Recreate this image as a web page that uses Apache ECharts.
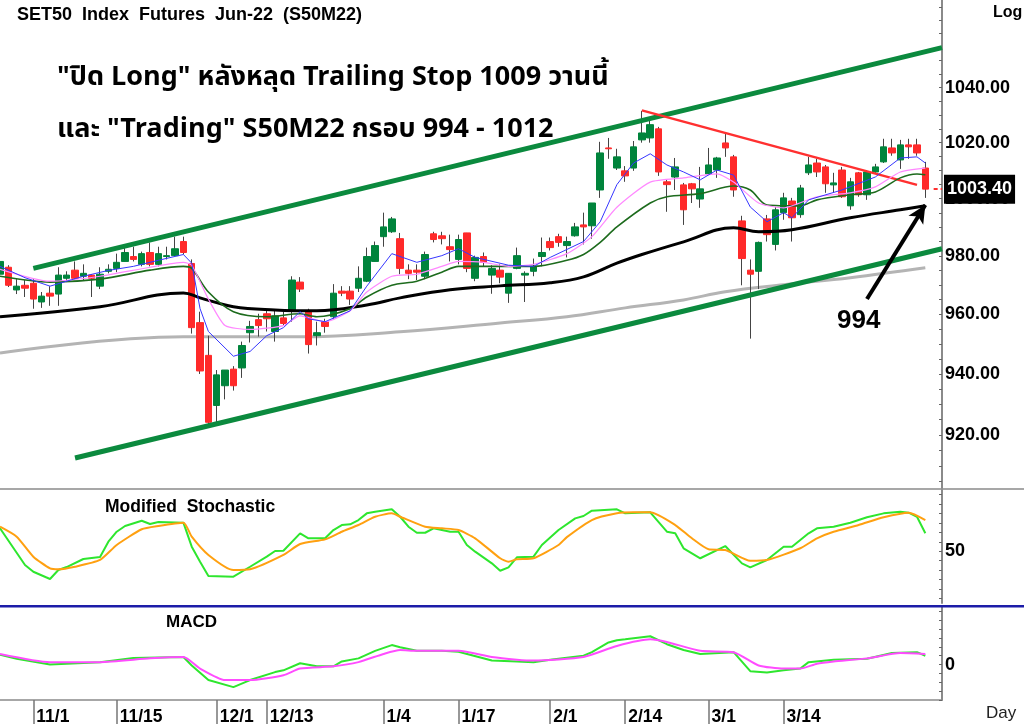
<!DOCTYPE html>
<html><head><meta charset="utf-8">
<script src="https://cdn.jsdelivr.net/npm/echarts@6/dist/echarts.min.js"></script>
<style>html,body{margin:0;padding:0;background:#fff}#c{width:1024px;height:726px}</style>
</head><body><div id="c"></div>
<script>
// ---- categories (trading days) ----
const dates = ['10/26','10/27','10/28','10/29',
 '11/1','11/2','11/3','11/4','11/5','11/8','11/9','11/10','11/11','11/12',
 '11/15','11/16','11/17','11/18','11/19','11/22','11/23','11/24','11/25','11/26','11/29','11/30',
 '12/1','12/2','12/3','12/7','12/8','12/9','12/13','12/14','12/15','12/16','12/17',
 '12/20','12/21','12/22','12/23','12/24','12/27','12/28','12/29','12/30',
 '1/4','1/5','1/6','1/7','1/10','1/11','1/12','1/13','1/14','1/17','1/18','1/19','1/20','1/21',
 '1/24','1/25','1/26','1/27','1/28','1/31',
 '2/1','2/2','2/3','2/4','2/7','2/8','2/9','2/10','2/11','2/14','2/15','2/17','2/18',
 '2/21','2/22','2/23','2/24','2/25','2/28',
 '3/1','3/2','3/3','3/4','3/7','3/8','3/9','3/10','3/11','3/14','3/15','3/16','3/17','3/18',
 '3/21','3/22','3/23','3/24','3/25','3/28','3/29','3/30','3/31',
 '4/1','4/4','4/5','4/7','4/8','4/11'];
const dateLabels = ['11/1','11/15','12/1','12/13','1/4','1/17','2/1','2/14','3/1','3/14'];

// ---- candles ----
const opens  = [973.7,976.1,968.3,969.9,970.6,964.2,967.2,966.9,972.3,975.1,973.0,973.4,969.6,974.7,975.7,978.1,979.8,977.1,981.2,977.1,979.8,980.1,985.0,977.4,957.2,946.2,929.6,936.1,941.6,942.0,953.8,958.2,960.2,954.2,958.8,961.2,971.0,961.2,952.8,957.5,959.2,967.9,967.9,968.9,971.3,978.1,986.7,988.4,986.0,975.1,975.1,973.0,987.7,987.0,983.2,978.8,988.0,972.3,979.8,973.4,975.1,967.2,975.7,973.4,974.7,979.8,985.0,986.7,983.6,987.0,990.8,990.5,1003.1,1018.1,1010.9,1009.9,1010.9,1021.0,1021.7,1025.0,1006.0,1007.7,1004.9,1005.3,999.9,1008.8,1010.2,1019.9,1014.9,992.2,975.1,974.7,992.9,984.0,995.1,999.2,994.4,1009.2,1012.7,1011.3,1004.9,1010.2,997.5,1009.2,1001.4,1009.5,1013.1,1018.1,1013.8,1019.2,1019.2,1010.9];
const closes = [978.1,969.9,969.6,968.9,965.2,966.2,966.2,973.4,973.4,972.3,974.0,972.3,973.7,975.4,977.8,981.2,978.8,980.8,977.1,980.8,980.1,982.5,981.2,955.5,941.0,924.1,939.7,941.3,936.1,949.5,955.9,956.2,958.5,959.5,956.9,971.7,968.6,949.8,953.8,955.9,967.2,967.2,965.2,972.3,979.8,983.6,990.1,992.9,975.7,974.0,974.4,980.5,985.7,986.0,982.2,985.7,975.7,979.5,977.8,975.7,972.7,974.0,980.1,974.0,976.4,981.2,982.9,984.7,985.0,990.1,990.1,998.5,1016.3,1017.8,1014.9,1008.1,1018.5,1023.5,1026.5,1009.5,1005.0,1011.3,996.1,1003.5,1003.5,1012.0,1014.5,1018.1,1003.1,979.1,973.7,984.7,987.4,996.1,1000.3,993.3,1003.8,1012.0,1009.5,1005.3,1005.6,1000.7,1006.0,1001.4,1009.5,1011.3,1018.5,1016.3,1019.2,1018.5,1016.3,1003.4];
const lows   = [972.7,969.3,966.9,965.9,961.9,962.2,962.9,962.9,971.0,972.0,971.7,965.9,968.6,974.0,974.4,978.1,978.1,976.4,976.4,976.4,978.8,979.8,980.5,953.5,940.0,923.5,924.1,931.6,934.5,938.7,950.5,952.5,954.2,950.8,956.2,957.5,967.6,946.8,949.5,953.8,958.5,966.2,963.2,967.6,971.0,978.1,983.2,988.0,973.7,972.0,971.7,972.0,984.7,984.0,978.1,977.1,974.4,971.3,976.4,967.0,970.6,963.9,975.4,964.2,973.0,976.4,981.9,983.2,979.5,986.7,984.0,986.0,1000.3,1014.2,1010.2,1006.0,1009.9,1020.0,1020.0,1008.1,995.4,1003.1,990.8,998.5,996.8,1008.4,1007.4,1014.9,1000.7,969.9,951.8,968.6,985.0,981.9,992.6,985.0,993.3,1008.4,1007.7,1002.1,1002.1,1000.3,996.1,1000.7,999.6,1009.2,1012.7,1015.3,1010.6,1014.2,1015.3,1000.3];
const highs  = [979.5,976.8,972.0,971.7,972.0,967.6,969.6,976.1,974.7,978.1,977.1,973.7,976.1,977.1,980.8,983.2,983.2,981.5,984.7,983.2,983.2,986.7,986.7,978.8,960.9,952.8,941.3,941.3,942.6,950.8,957.8,960.2,961.2,961.2,960.9,973.0,972.7,961.9,957.5,958.5,970.3,969.6,969.6,976.4,982.9,985.0,995.1,993.6,988.0,977.1,977.1,981.5,988.4,988.4,987.4,987.4,988.0,980.1,981.2,976.8,977.1,974.0,982.9,974.7,979.1,986.4,986.4,987.7,986.7,991.5,995.1,998.5,1020.3,1021.7,1017.8,1011.6,1020.6,1031.5,1027.9,1025.7,1006.7,1014.5,1005.6,1005.6,1011.3,1018.1,1014.9,1023.5,1015.6,994.0,978.8,985.0,994.3,997.1,1002.1,1000.3,1004.9,1014.9,1014.2,1012.0,1009.2,1011.3,1007.4,1009.5,1010.2,1012.4,1021.4,1021.4,1021.0,1021.4,1021.4,1013.1];
const lastPrice = 1003.40;

// ---- moving averages [dayIndex, value] ----
const maBlue = [[0,976.4],[3,972.5],[6,969.6],[10,973.0],[13,975.0],[16,976.4],[19,978.5],[22,980.5],[23,977.5],[24,961.9],[25,954.2],[28,945.9],[30,947.5],[32,952.8],[34,955.5],[36,960.9],[37,958.5],[39,957.5],[42,961.2],[44,969.6],[47,980.8],[50,977.8],[53,980.1],[55,982.5],[57,979.5],[61,976.8],[64,976.4],[66,979.5],[70,985.0],[72,991.9],[74,1005.0],[76,1012.7],[78,1016.0],[80,1012.0],[82,1009.5],[84,1006.7],[86,1010.2],[88,1008.4],[90,997.1],[92,991.9],[94,995.1],[95,993.3],[97,999.6],[101,1003.1],[105,1007.7],[108,1014.5],[110,1014.9],[111,1012.7]];
const maPink = [[0,975.4],[6,971.3],[12,973.0],[18,976.1],[22,977.8],[23,976.8],[25,965.2],[27,956.2],[30,954.9],[34,956.2],[36,959.5],[39,957.5],[42,961.2],[44,967.6],[47,973.0],[50,973.7],[53,976.4],[55,978.1],[58,977.8],[61,976.4],[64,977.1],[68,980.8],[71,986.7],[74,997.0],[78,1005.9],[82,1007.4],[86,1008.8],[88,1005.9],[91,998.5],[94,996.8],[98,1000.7],[102,1002.1],[105,1004.2],[108,1009.5],[111,1010.9]];
const maDkGreen = [[0,973.0],[6,971.0],[12,972.0],[18,975.1],[22,976.4],[23,975.7],[25,967.6],[28,960.9],[32,959.2],[36,960.2],[38,959.2],[42,961.9],[44,965.9],[47,969.9],[50,971.3],[53,974.4],[55,976.4],[60,976.4],[64,976.4],[68,978.5],[70,980.5],[72,984.7],[74,990.1],[78,998.5],[80,1000.7],[84,1001.8],[88,1004.5],[90,1003.1],[92,997.8],[96,997.5],[98,999.6],[102,1001.4],[105,1002.4],[108,1007.4],[110,1008.8],[111,1008.5]];
const maBlack = [[0,959.2],[12,962.6],[22,967.3],[24,965.6],[28,962.6],[33,961.5],[38,961.2],[44,963.2],[48,965.6],[54,968.4],[60,969.7],[66,970.8],[70,972.8],[74,977.5],[77,980.5],[82,984.9],[88,989.8],[91,988.4],[95,989.1],[102,993.3],[108,996.1],[111,997.5]];
const maGray = [[0,947.0],[22,952.4],[36,952.4],[48,954.1],[60,957.1],[68,959.2],[75,962.2],[82,964.9],[87,967.7],[94,970.1],[102,972.5],[111,975.9]];

// ---- drawn trend lines [dayIndex, price] ----
const channelUpper = [[4,975.7],[113,1054.8]];
const channelLower = [[9,912.5],[113,982.5]];
const redTrend = [[77,1031.7],[110,1004.9]];
const arrow994 = [[104,965.2],[111,997.8]];

// ---- stochastic ----
const stochK = [[0,74.3],[3,35.3],[4,28.2],[6,20.5],[7,30.0],[8,33.2],[10,41.7],[12,43.8],[13,60.1],[14,70.7],[15,76.8],[17,82.4],[18,78.9],[19,81.0],[22,80.3],[23,54.8],[24,38.8],[25,23.7],[28,22.9],[30,33.5],[32,44.2],[33,50.2],[34,50.5],[36,69.0],[37,63.7],[39,63.7],[40,72.5],[41,77.8],[42,78.6],[43,83.1],[44,90.2],[45,91.9],[47,94.5],[48,86.6],[49,76.0],[50,69.6],[51,69.6],[52,74.3],[54,70.7],[55,70.7],[56,56.6],[57,49.5],[59,37.1],[60,29.3],[61,32.9],[62,43.5],[64,44.2],[65,56.6],[67,72.5],[69,84.9],[70,87.4],[71,93.0],[74,94.5],[75,90.2],[78,91.3],[80,70.7],[81,69.0],[82,53.1],[84,42.5],[87,55.5],[89,37.1],[90,32.9],[92,40.7],[94,54.8],[95,54.8],[97,69.0],[98,74.3],[100,76.0],[102,80.3],[104,86.0],[106,90.2],[108,91.9],[109,90.9],[110,86.6],[111,69.0]];
const stochD = [[0,76.0],[2,65.4],[4,44.2],[6,31.8],[7,30.8],[9,33.5],[12,40.7],[14,56.6],[17,73.3],[19,76.8],[22,80.3],[23,65.4],[25,46.0],[28,30.0],[30,30.8],[34,46.0],[36,57.6],[39,62.6],[41,70.7],[43,77.8],[45,86.6],[47,90.2],[48,86.6],[51,76.0],[53,74.3],[55,72.5],[57,63.7],[60,42.5],[61,38.8],[62,41.4],[64,42.5],[67,56.6],[68,65.0],[71,83.1],[74,90.2],[76,91.3],[78,91.3],[81,77.8],[83,63.7],[85,52.0],[87,51.3],[90,39.9],[92,40.7],[96,53.1],[98,63.7],[100,70.7],[103,77.8],[106,86.0],[109,90.9],[111,83.1]];

// ---- MACD ----
const macdLine = [[0,2.2],[2,1.3],[6,0.0],[8,0.2],[12,0.5],[16,1.5],[22,1.7],[23,-0.2],[25,-3.5],[28,-5.1],[30,-3.5],[33,-1.7],[34,-1.3],[36,0.3],[38,-0.4],[40,-0.4],[41,0.7],[43,1.4],[45,3.1],[47,4.4],[48,3.9],[50,3.1],[53,3.1],[55,2.9],[59,0.9],[62,0.7],[64,0.55],[66,1.1],[70,2.0],[71,2.8],[73,5.0],[74,5.5],[75,5.7],[78,6.4],[80,4.6],[82,3.3],[84,2.4],[88,2.8],[90,-1.5],[92,-1.8],[94,-1.3],[96,-0.9],[97,0.55],[100,1.1],[104,1.3],[107,2.6],[110,2.8],[111,2.0]];
const macdSignal = [[0,2.4],[6,0.55],[12,0.55],[18,1.4],[22,1.7],[24,-0.9],[27,-3.5],[30,-3.5],[34,-2.4],[36,-0.9],[40,-0.4],[43,0.55],[46,2.4],[48,3.3],[50,3.1],[55,3.1],[59,1.7],[62,1.1],[64,0.9],[70,1.7],[74,4.2],[78,5.7],[80,5.1],[84,3.1],[88,2.8],[91,-0.2],[94,-0.9],[96,-0.9],[98,0.2],[100,0.7],[104,1.4],[108,2.6],[111,2.4]];

// ---- axis ticks ----
const priceLabels = [920,940,960,980,1000,1020,1040];
const priceTicks = []; for (let p = 905; p <= 1070; p += 5) priceTicks.push(p);
const stochLabels = [50];
const stochTicks = [0,10,20,30,40,50,60,70,80,90,100,110];
const macdLabels = [0];
const macdTicks = [-8,-6,-4,-2,0,2,4,6,8,10,12];

const L = Math.log;
const FONT = '"Liberation Sans", Arial, sans-serif';
const THAI = 'Tahoma, "Noto Sans Thai", "Liberation Sans", sans-serif';
const pairsL = a => a.map(p => [p[0], L(p[1])]);

const wickData = opens.map((o,i) => [L(o), L(closes[i]), L(lows[i]), L(highs[i])]);
const bodyData = opens.map((o,i) => [L(o), L(closes[i]), L(Math.min(o,closes[i])), L(Math.max(o,closes[i]))]);
const isLabel = (i, v) => dateLabels.indexOf(v) >= 0;

const chart = echarts.init(document.getElementById('c'));
const axisGray = '#8a8a8a';

chart.setOption({
  animation: false,
  backgroundColor: '#fff',
  grid: [
    {left: 0, right: 82, top: 0, height: 488},
    {left: 0, right: 82, top: 490, height: 113},
    {left: 0, right: 82, top: 607, height: 95}
  ],
  xAxis: [
    {type:'category', gridIndex:0, data:dates, boundaryGap:false, axisLine:{show:false}, axisTick:{show:false}, axisLabel:{show:false}},
    {type:'category', gridIndex:1, data:dates, boundaryGap:false, axisLine:{show:false}, axisTick:{show:false}, axisLabel:{show:false}},
    {type:'category', gridIndex:2, data:dates, boundaryGap:false, position:'bottom',
      axisLine:{show:true, onZero:false, lineStyle:{color:axisGray, width:1.5}},
      axisTick:{show:true, interval:isLabel, length:24, lineStyle:{color:'#777', width:1.5}},
      axisLabel:{show:true, interval:isLabel, align:'left', margin:8, padding:[0,0,0,3], color:'#000', fontWeight:'bold', fontSize:17.5, fontFamily:FONT}}
  ],
  yAxis: [
    {type:'value', gridIndex:0, position:'right', min:L(902.9), max:L(1072.7), scale:true,
      splitLine:{show:false},
      axisLine:{show:true, lineStyle:{color:axisGray, width:2}},
      axisTick:{show:true, inside:true, length:3, customValues:priceTicks.map(L), lineStyle:{color:'#666'}},
      axisLabel:{customValues:priceLabels.map(L), formatter:v => Math.round(Math.exp(v)).toFixed(2), margin:3, color:'#000', fontWeight:'bold', fontSize:18, fontFamily:FONT}},
    {type:'value', gridIndex:1, position:'right', min:-5, max:115,
      splitLine:{show:false},
      axisLine:{show:true, lineStyle:{color:axisGray, width:2}},
      axisTick:{show:true, inside:true, length:3, customValues:stochTicks, lineStyle:{color:'#666'}},
      axisLabel:{customValues:stochLabels, margin:3, color:'#000', fontWeight:'bold', fontSize:18, fontFamily:FONT}},
    {type:'value', gridIndex:2, position:'right', min:-8, max:13,
      splitLine:{show:false},
      axisLine:{show:true, lineStyle:{color:axisGray, width:2}},
      axisTick:{show:true, inside:true, length:3, customValues:macdTicks, lineStyle:{color:'#666'}},
      axisLabel:{customValues:macdLabels, margin:3, color:'#000', fontWeight:'bold', fontSize:18, fontFamily:FONT}}
  ],
  series: [
    {type:'line', name:'trend', xAxisIndex:0, yAxisIndex:0, data:[], z:1, silent:true,
      markLine:{silent:true, symbol:['none','none'], label:{show:false},
        data:[
          [{coord:[channelUpper[0][0], L(channelUpper[0][1])], lineStyle:{color:'#0b8a3e', width:5, type:'solid'}}, {coord:[channelUpper[1][0], L(channelUpper[1][1])]}],
          [{coord:[channelLower[0][0], L(channelLower[0][1])], lineStyle:{color:'#0b8a3e', width:5, type:'solid'}}, {coord:[channelLower[1][0], L(channelLower[1][1])]}],
          [{coord:[redTrend[0][0], L(redTrend[0][1])], lineStyle:{color:'#ff3030', width:2.5, type:'solid'}}, {coord:[redTrend[1][0], L(redTrend[1][1])]}]
        ]}},
    {type:'line', name:'MA200', data:pairsL(maGray), showSymbol:false, smooth:0.4, z:2, lineStyle:{color:'#b4b4b4', width:3}},
    {type:'candlestick', name:'wick', data:wickData, barWidth:1, z:3,
      itemStyle:{color:'#444', color0:'#444', borderColor:'#444', borderColor0:'#444', borderWidth:1}},
    {type:'candlestick', name:'body', data:bodyData, barWidth:7, z:4,
      itemStyle:{color:'#00843c', color0:'#ff2a2a', borderColor:'#00843c', borderColor0:'#ff2a2a', borderWidth:1},
      markLine:{silent:true, symbol:['none','none'],
        data:[[{coord:[112, L(lastPrice)], lineStyle:{color:'#ff3030', width:2, type:[4,3]},
                label:{show:true, position:'end', distance:2, formatter:lastPrice.toFixed(2), backgroundColor:'#000', color:'#fff', fontWeight:'bold', fontSize:18, fontFamily:FONT, padding:[6,3,5,3]}},
               {coord:[113, L(lastPrice)]}]]}},
    {type:'line', name:'MA50', data:pairsL(maBlack), showSymbol:false, smooth:0.4, z:5, lineStyle:{color:'#000', width:3}},
    {type:'line', name:'MA15', data:pairsL(maDkGreen), showSymbol:false, smooth:0.3, z:5, lineStyle:{color:'#1d6b1d', width:1.6}},
    {type:'line', name:'MA10', data:pairsL(maPink), showSymbol:false, smooth:0.2, z:5, lineStyle:{color:'#ff88ff', width:1.2}},
    {type:'line', name:'MA5', data:pairsL(maBlue), showSymbol:false, z:5, lineStyle:{color:'#3636ff', width:1}},
    {type:'line', name:'arrow', data:[], z:6, silent:true,
      markLine:{silent:true, symbol:['none','arrow'], symbolSize:[13,18], label:{show:false},
        lineStyle:{color:'#000', width:4, type:'solid'},
        data:[[{coord:[arrow994[0][0], L(arrow994[0][1])]}, {coord:[arrow994[1][0], L(arrow994[1][1])]}]]}},
    {type:'line', name:'%K', xAxisIndex:1, yAxisIndex:1, data:stochK, showSymbol:false, lineStyle:{color:'#2ee62e', width:2}},
    {type:'line', name:'%D', xAxisIndex:1, yAxisIndex:1, data:stochD, showSymbol:false, smooth:0.2, lineStyle:{color:'#ffa010', width:2}},
    {type:'line', name:'MACD', xAxisIndex:2, yAxisIndex:2, data:macdLine, showSymbol:false, lineStyle:{color:'#2ee62e', width:2}},
    {type:'line', name:'Signal', xAxisIndex:2, yAxisIndex:2, data:macdSignal, showSymbol:false, smooth:0.2, lineStyle:{color:'#ff4cff', width:2}}
  ],
  graphic: [
    {type:'line', shape:{x1:0, y1:489, x2:1024, y2:489}, style:{stroke:axisGray, lineWidth:1.5}, z:10},
    {type:'rect', shape:{x:0, y:605, width:1024, height:2.5}, style:{fill:'#1c1ca8'}, z:10},
    {type:'text', left:17, top:6, style:{text:'SET50  Index  Futures  Jun-22  (S50M22)', font:'bold 18px '+FONT, fill:'#000'}, z:20},
    {type:'text', left:993, top:5, style:{text:'Log', font:'bold 16px '+FONT, fill:'#000'}, z:20},
    {type:'text', left:57, top:66, style:{text:'"ปิด Long" หลังหลุด Trailing Stop 1009 วานนี้', font:'bold 27px '+THAI, fill:'#000'}, z:20},
    {type:'text', left:57, top:118, style:{text:'และ "Trading" S50M22 กรอบ 994 - 1012', font:'bold 27px '+THAI, fill:'#000'}, z:20},
    {type:'text', left:837, top:308, style:{text:'994', font:'bold 26px '+FONT, fill:'#000'}, z:20},
    {type:'text', left:105, top:498, style:{text:'Modified  Stochastic', font:'bold 17.5px '+FONT, fill:'#000'}, z:20},
    {type:'text', left:166, top:614, style:{text:'MACD', font:'bold 17px '+FONT, fill:'#000'}, z:20},
    {type:'text', left:986, top:705, style:{text:'Day', font:'17px '+FONT, fill:'#222'}, z:20}
  ]
});
</script></body></html>
